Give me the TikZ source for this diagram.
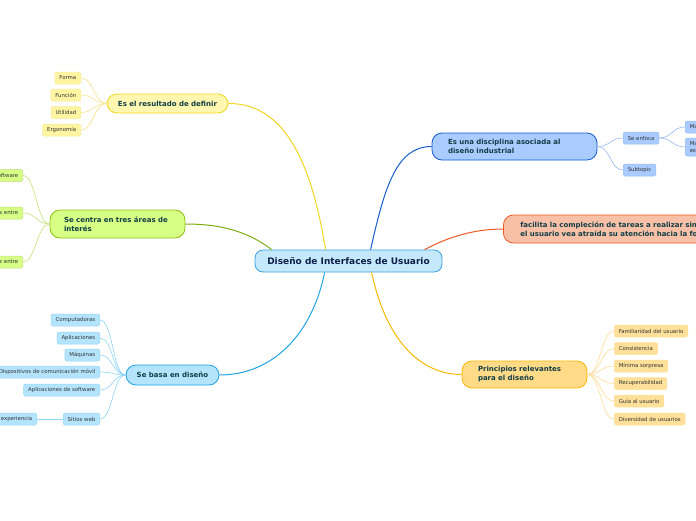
\documentclass[tikz,border=0pt]{standalone}
\usepackage{fontspec}
\setmainfont{DejaVu Sans}
\usetikzlibrary{calc, positioning, arrows.meta}
\definecolor{centreFill}{RGB}{197,233,251}
\definecolor{centreBorder}{RGB}{58,160,224}
\definecolor{centreText}{RGB}{14,32,74}
\definecolor{topicText}{RGB}{16,62,70}
\definecolor{leafText}{RGB}{51,51,51}
\definecolor{yellowFill}{RGB}{255,247,176}
\definecolor{yellowBorder}{RGB}{240,214,30}
\definecolor{yellowTwig}{RGB}{246,230,140}
\definecolor{greenFill}{RGB}{216,255,133}
\definecolor{greenBorder}{RGB}{140,190,16}
\definecolor{greenTwig}{RGB}{196,226,122}
\definecolor{skyFill}{RGB}{180,228,252}
\definecolor{skyBorder}{RGB}{32,164,228}
\definecolor{skyTwig}{RGB}{142,212,246}
\definecolor{royalFill}{RGB}{169,203,255}
\definecolor{royalBorder}{RGB}{20,92,208}
\definecolor{royalTwig}{RGB}{150,186,240}
\definecolor{coralFill}{RGB}{249,192,168}
\definecolor{coralBorder}{RGB}{240,88,36}
\definecolor{goldFill}{RGB}{255,219,136}
\definecolor{goldBorder}{RGB}{248,184,0}
\definecolor{goldTwig}{RGB}{255,220,152}

\begin{document}
\begin{tikzpicture}[x=1pt, y=-1pt,
  central/.style={draw=centreBorder, fill=centreFill, line width=0.8pt, rounded corners=8pt,
    minimum width=187pt, minimum height=22pt, inner sep=0pt,
    font=\bfseries\fontsize{9}{10}\selectfont, text=centreText},
  topic/.style={line width=0.8pt, rounded corners=10pt, inner xsep=16pt, inner ysep=0pt,
    align=left, font=\bfseries\fontsize{7}{9}\selectfont, text=topicText},
  leaf/.style={line width=0.5pt, rounded corners=2pt, minimum height=12pt, inner xsep=4.5pt,
    inner ysep=0pt, font=\fontsize{5.4}{7}\selectfont, text=leafText},
  branch/.style={line width=1pt},
  twig/.style={line width=0.6pt},
  lfan/.style={to path={.. controls ($(\tikztostart)+(-13,0)$) and ($(\tikztotarget)+(13,0)$) .. (\tikztotarget)}},
  rfan/.style={to path={.. controls ($(\tikztostart)+(13,0)$) and ($(\tikztotarget)+(-13,0)$) .. (\tikztotarget)}}]
\useasboundingbox (0,0) rectangle (696,520);
\clip (0,0) rectangle (696,520);
\fill[white] (0,0) rectangle (696,520);

% Central topic
\node[central] (centre) at (348.5,261) {Diseño de Interfaces de Usuario};

% Main topics
\node[topic, draw=yellowBorder, fill=yellowFill, minimum width=121pt, minimum height=19pt,
  inner xsep=8pt, align=center] (resultado) at (167.5,103.5) {Es el resultado de definir};
\node[topic, draw=greenBorder, fill=greenFill, inner xsep=14pt, text width=107pt,
  minimum height=28pt] (interes) at (117.5,224) {Se centra en tres áreas de\\interés};
\node[topic, draw=skyBorder, fill=skyFill, minimum width=93pt, minimum height=20pt,
  inner xsep=8pt, align=center] (basa) at (172.5,375) {Se basa en diseño};
\node[topic, draw=royalBorder, fill=royalFill, text width=133pt,
  minimum height=27pt] (disciplina) at (514.5,146.5) {Es una disciplina asociada al\\diseño industrial};
\node[topic, draw=coralBorder, fill=coralFill, anchor=west, inner xsep=17pt, text width=260pt,
  minimum height=28pt] (facilita) at (503,229) {facilita la compleción de tareas a realizar sin\\el usuario vea atraída su atención hacia la fo};
\node[topic, draw=goldBorder, fill=goldFill, text width=93pt,
  minimum height=27pt] (principios) at (524.5,374.5) {Principios relevantes\\para el diseño};

% Branches
\draw[branch, yellowBorder] ($(centre.north west)+(71,0)$) .. controls (314,180) and (292,103) .. (resultado.east);
\draw[branch, greenBorder!90!black] ($(centre.north west)+(17,0)$) .. controls (245,229) and (215,224) .. (interes.east);
\draw[branch, skyBorder] ($(centre.south west)+(70,0)$) .. controls (312,335) and (272,375) .. (basa.east);
\draw[branch, royalBorder] ($(centre.north west)+(116,0)$) .. controls (385,185) and (397,146.5) .. (disciplina.west);
\draw[branch, coralBorder] ($(centre.north west)+(170,0)$) .. controls (450,236) and (476,229) .. (facilita.west);
\draw[branch, goldBorder] ($(centre.south west)+(117,0)$) .. controls (386,340) and (420,374.5) .. (principios.west);

% Leaves of "Es el resultado de definir"
\foreach \name/\y/\txt in {forma/78/Forma, funcion/95/Función, utilidad/112.5/Utilidad, ergonomia/130/Ergonomía} {
  \node[leaf, draw=yellowBorder!45, fill=yellowFill!90!yellowBorder, anchor=east] (\name) at (81,\y) {\txt};
  \draw[twig, yellowTwig] (resultado.west) to[lfan] (\name.east);
}

% Leaves of "Se centra en tres áreas de interés"
\foreach \name/\y/\txt in {oftware/175.5/oftware, sentre/213/s entre, zentre/262/z entre} {
  \node[leaf, draw=greenBorder!55, fill=greenFill, anchor=east, text width=60pt, align=right] (\name) at (23,\y) {\txt};
  \draw[twig, greenTwig] (interes.west) to[lfan] (\name.east);
}

% Leaves of "Se basa en diseño"
\foreach \name/\y/\txt in {computadoras/320/Computadoras, aplicaciones/338/Aplicaciones, maquinas/355/Máquinas,
    dispositivos/372/Dispositivos de comunicación móvil, aplsoftware/390/Aplicaciones de software, sitios/419/Sitios web} {
  \node[leaf, draw=skyBorder!45, fill=skyFill, anchor=east] (\name) at (100,\y) {\txt};
  \draw[twig, skyTwig] (basa.west) to[lfan] (\name.east);
}
\node[leaf, draw=skyBorder!45, fill=skyFill, anchor=east, text width=40pt, align=right] (experiencia) at (37,419) {experiencia};
\draw[twig, skyTwig] (sitios.west) -- (experiencia.east);

% Leaves of "Es una disciplina asociada al diseño industrial"
\node[leaf, draw=royalTwig, fill=royalFill, anchor=west] (enfoca) at (623,138) {Se enfoca};
\node[leaf, draw=royalTwig, fill=royalFill, anchor=west] (subtopic) at (623,170) {Subtopic};
\draw[twig, royalTwig] (disciplina.east) to[rfan] (enfoca.west);
\draw[twig, royalTwig] (disciplina.east) to[rfan] (subtopic.west);
\node[leaf, draw=royalTwig, fill=royalFill, anchor=west, text width=30pt, align=left] (ma) at (685,127) {Ma};
\node[leaf, draw=royalTwig, fill=royalFill, anchor=west, text width=30pt, align=left,
  minimum height=18pt] (maex) at (685,147) {Ma\\ex};
\draw[twig, royalTwig] (enfoca.east) to[rfan] (ma.west);
\draw[twig, royalTwig] (enfoca.east) to[rfan] (maex.west);

% Leaves of "Principios relevantes para el diseño"
\foreach \name/\y/\txt in {familiaridad/331/Familiaridad del usuario, consistencia/348.5/Consistencia,
    sorpresa/366/Mínima sorpresa, recuperabilidad/383.5/Recuperabilidad, guia/401/Guía al usuario,
    diversidad/419/Diversidad de usuarios} {
  \node[leaf, draw=goldBorder!40, fill=goldFill!85!white, anchor=west] (\name) at (614,\y) {\txt};
  \draw[twig, goldTwig] (principios.east) to[rfan] (\name.west);
}
\end{tikzpicture}
\end{document}
